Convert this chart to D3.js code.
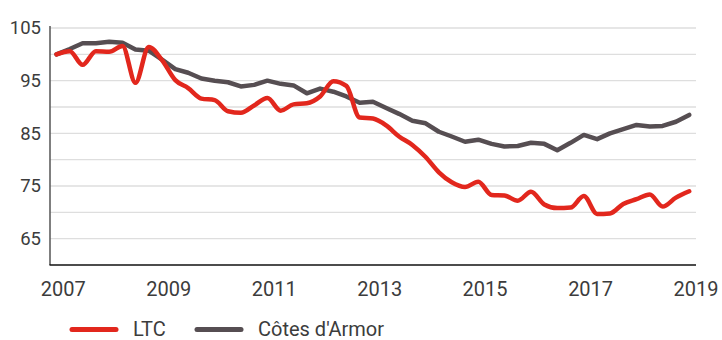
<!DOCTYPE html>
<html>
<head>
<meta charset="utf-8">
<script src="https://cdn.jsdelivr.net/npm/d3@7"></script>
<style>
  html, body { margin: 0; padding: 0; background: #fff; }
  svg { display: block; font-family: Roboto, "Noto Sans", sans-serif; }
</style>
</head>
<body>
<svg id="chart" width="722" height="340"></svg>
<script>
// Quarterly index values (base 100), Q4 2006 to Q4 2018
const quarterStart = new Date(2006, 10, 15);
const ltcValues = [
  100.0, 100.6, 98.0, 100.6, 100.5, 101.6, 94.6, 101.4, 98.9, 95.1,
  93.6, 91.6, 91.3, 89.2, 88.9, 90.3, 91.7, 89.3, 90.5, 90.7,
  92.0, 94.9, 94.0, 88.0, 87.8, 86.5, 84.4, 82.8, 80.5, 77.6,
  75.7, 74.8, 75.8, 73.3, 73.2, 72.2, 73.9, 71.5, 70.8, 70.9,
  73.1, 69.7, 69.8, 71.6, 72.5, 73.4, 71.1, 72.8, 74.0
];
const cotesValues = [
  100.0, 101.0, 102.1, 102.1, 102.4, 102.2, 100.9, 100.7, 99.0, 97.2,
  96.5, 95.4, 95.0, 94.7, 93.9, 94.2, 95.0, 94.4, 94.1, 92.6,
  93.5, 92.9, 92.0, 90.8, 91.0, 89.8, 88.7, 87.4, 86.9, 85.3,
  84.4, 83.4, 83.8, 83.0, 82.5, 82.6, 83.2, 83.0, 81.8, 83.2,
  84.7, 83.9, 85.0, 85.8, 86.6, 86.3, 86.4, 87.2, 88.5
];
const seriesNames = ["LTC", "Côtes d'Armor"];
const seriesColors = ["#e2271d", "#564e52"];
const xTickYears = [2007, 2009, 2011, 2013, 2015, 2017, 2019];
const yTickLabels = [65, 75, 85, 95, 105];
const yGridValues = [65, 70, 75, 80, 85, 90, 95, 100, 105];

(function draw() {
  const dates = ltcValues.map((_, i) => d3.timeMonth.offset(quarterStart, 3 * i));

  const svg = d3.select("#chart");
  const plotLeft = 50, plotRight = 696, plotTop = 28, plotBottom = 265;

  const x = d3.scaleTime()
    .domain([new Date(2006, 9, 1), new Date(2019, 0, 1)])
    .range([plotLeft, plotRight]);
  const y = d3.scaleLinear().domain([60, 105]).range([plotBottom, plotTop]);

  // horizontal gridlines
  svg.append("g")
    .selectAll("line")
    .data(yGridValues)
    .join("line")
    .attr("x1", plotLeft).attr("x2", plotRight)
    .attr("y1", d => y(d)).attr("y2", d => y(d))
    .attr("stroke", "#dedede")
    .attr("stroke-width", 1.3);

  // y axis labels
  svg.append("g")
    .selectAll("text")
    .data(yTickLabels)
    .join("text")
    .attr("x", 41)
    .attr("y", d => y(d))
    .attr("dy", "0.35em")
    .attr("text-anchor", "end")
    .attr("font-size", 18.5)
    .attr("fill", "#3c3c3c")
    .text(d => d);

  // x axis labels
  svg.append("g")
    .selectAll("text")
    .data(xTickYears)
    .join("text")
    .attr("x", d => x(new Date(d, 0, 1)))
    .attr("y", 296)
    .attr("text-anchor", "middle")
    .attr("font-size", 20)
    .attr("fill", "#3c3c3c")
    .text(d => d);

  // axis lines
  svg.append("line")
    .attr("x1", plotLeft).attr("x2", plotLeft)
    .attr("y1", 26).attr("y2", plotBottom)
    .attr("stroke", "#555").attr("stroke-width", 1.5);
  svg.append("line")
    .attr("x1", plotLeft - 0.5).attr("x2", plotRight)
    .attr("y1", plotBottom).attr("y2", plotBottom)
    .attr("stroke", "#111").attr("stroke-width", 1.5);

  // series lines
  const smoothLine = d3.line()
    .x((d, i) => x(dates[i]))
    .y(d => y(d))
    .curve(d3.curveMonotoneX);
  const straightLine = d3.line()
    .x((d, i) => x(dates[i]))
    .y(d => y(d));

  svg.append("path")
    .datum(cotesValues)
    .attr("d", straightLine)
    .attr("fill", "none")
    .attr("stroke", seriesColors[1])
    .attr("stroke-width", 4.5)
    .attr("stroke-linejoin", "round")
    .attr("stroke-linecap", "round");

  svg.append("path")
    .datum(ltcValues)
    .attr("d", smoothLine)
    .attr("fill", "none")
    .attr("stroke", seriesColors[0])
    .attr("stroke-width", 4.5)
    .attr("stroke-linejoin", "round")
    .attr("stroke-linecap", "round");

  // legend
  const legendItems = [
    { name: seriesNames[0], color: seriesColors[0], x0: 72, tx: 133 },
    { name: seriesNames[1], color: seriesColors[1], x0: 197, tx: 258 }
  ];
  const legend = svg.append("g");
  legend.selectAll("line")
    .data(legendItems)
    .join("line")
    .attr("x1", d => d.x0).attr("x2", d => d.x0 + 44)
    .attr("y1", 329.5).attr("y2", 329.5)
    .attr("stroke", d => d.color)
    .attr("stroke-width", 5)
    .attr("stroke-linecap", "round");
  legend.selectAll("text")
    .data(legendItems)
    .join("text")
    .attr("x", d => d.tx)
    .attr("y", 335.5)
    .attr("font-size", 20)
    .attr("fill", "#3c3c3c")
    .text(d => d.name);
})();
</script>
</body>
</html>
